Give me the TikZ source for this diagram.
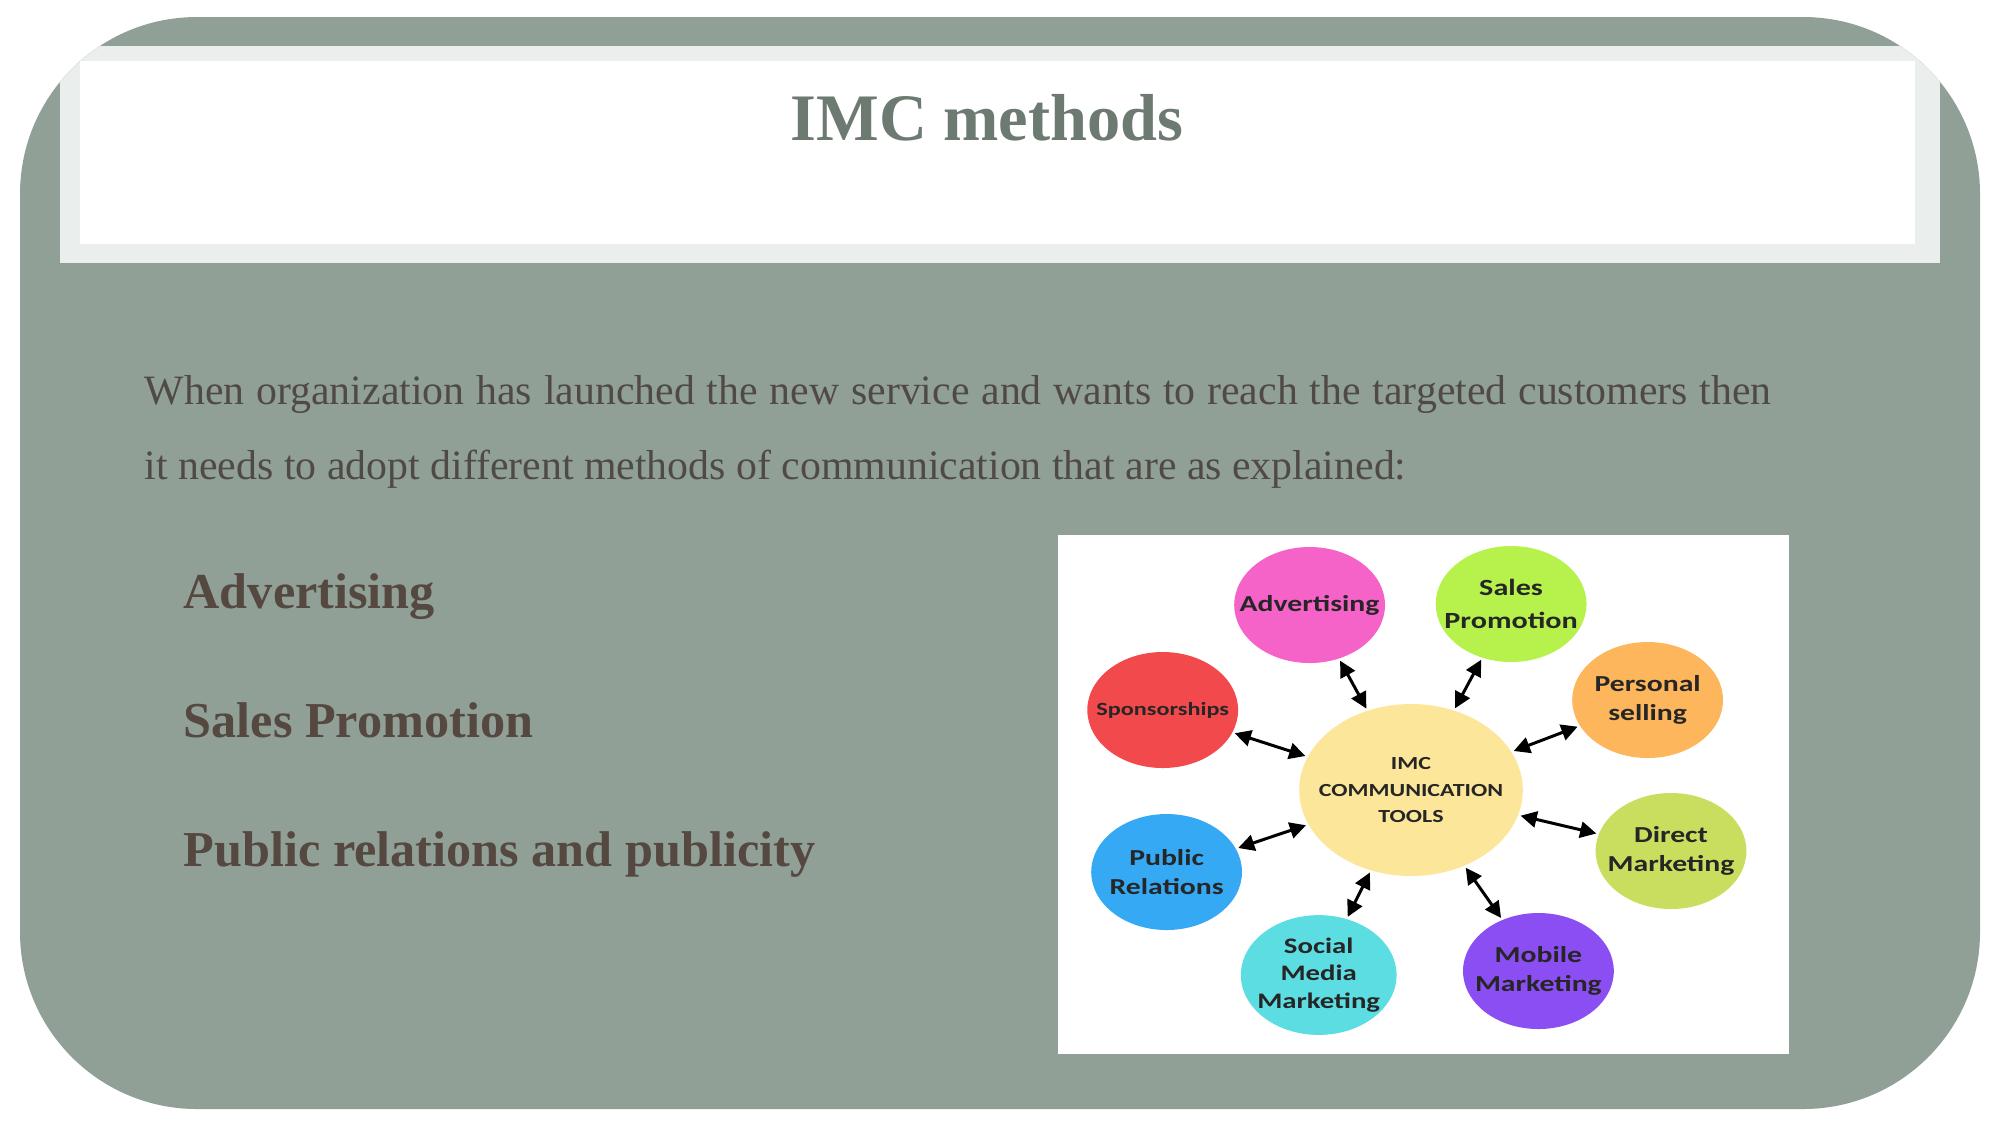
\documentclass[tikz,border=0pt]{standalone}
\usepackage{xcolor}
\usepackage{fontspec}
\setmainfont{Liberation Serif}
\newfontfamily\toolfont{Carlito}
\usetikzlibrary{arrows.meta}

\definecolor{slidegray}{RGB}{145,160,151}
\definecolor{bandgray}{RGB}{234,238,236}
\definecolor{titlegray}{RGB}{108,122,113}
\definecolor{bodytext}{RGB}{80,74,68}
\definecolor{itemtext}{RGB}{85,72,64}
\definecolor{advpink}{RGB}{245,98,200}
\definecolor{salelime}{RGB}{182,242,75}
\definecolor{persorange}{RGB}{253,182,92}
\definecolor{sponsred}{RGB}{242,73,76}
\definecolor{directgreen}{RGB}{201,222,94}
\definecolor{publicblue}{RGB}{53,169,243}
\definecolor{socialcyan}{RGB}{92,221,226}
\definecolor{mobilepurple}{RGB}{139,78,242}
\definecolor{imcyellow}{RGB}{252,230,154}

\begin{document}
\begin{tikzpicture}[
    bodyline/.style={anchor=base west, inner sep=0pt, text=bodytext, font=\fontsize{11.9}{14}\selectfont},
    itemline/.style={anchor=base west, inner sep=0pt, text=itemtext, font=\bfseries\fontsize{14.3}{17}\selectfont},
    toolcirc/.style={circle, minimum size=1.16cm, inner sep=0pt, align=center, text=black!85,
        font=\toolfont\bfseries\fontsize{6.5}{8.4}\selectfont},
    imcarr/.style={<->, >={Triangle[length=4.6pt,width=4.6pt]}, line width=0.85pt, shorten <=0.5pt, shorten >=0.5pt}
]
    \useasboundingbox (0,0) rectangle (20.01,-11.25);
    \fill[white] (0,0) rectangle (20.01,-11.25);

    % --- SLIDE BACKGROUND ---
    \fill[slidegray, rounded corners=1.77cm] (0.20,-0.17) rectangle (19.80,-11.09);
    \begin{scope}
        \clip[rounded corners=1.77cm] (0.20,-0.17) rectangle (19.80,-11.09);
        \fill[bandgray] (0.60,-0.46) rectangle (19.40,-2.63);
        \fill[white] (0.80,-0.61) rectangle (19.15,-2.44);
    \end{scope}

    % --- TITLE ---
    \node[anchor=base, inner sep=0pt, text=titlegray, font=\bfseries\fontsize{18.9}{22}\selectfont]
        (title) at (9.87,-1.407) {IMC methods};

    % --- INTRO TEXT ---
    \node[bodyline] (intro1) at (1.44,-4.04)
        {\makebox[16.27cm][s]{When organization has launched the new service and wants to reach the targeted customers then}};
    \node[bodyline] (intro2) at (1.44,-4.79)
        {it needs to adopt different methods of communication that are as explained:};

    % --- METHODS ---
    \node[itemline] (item1) at (1.83,-6.08) {Advertising};
    \node[itemline] (item2) at (1.83,-7.37) {Sales Promotion};
    \node[itemline] (item3) at (1.83,-8.66) {Public relations and publicity};

    % --- PICTURE ---
    \fill[white] (10.58,-5.35) rectangle (17.89,-10.54);

    \begin{scope}[shift={(14.11,-7.90)}, xscale=1.3, every node/.append style={transform shape}]
        \node[circle, fill=imcyellow, minimum size=1.72cm, inner sep=0pt, align=center, text=black!85,
            font=\toolfont\bfseries\fontsize{5.25}{7.6}\selectfont] (imc) at (0,0)
            {IMC\\COMMUNICATION\\TOOLS};

        \node[toolcirc, fill=advpink] (adv) at (-0.78,1.85) {Advertising};
        \node[toolcirc, fill=salelime, font=\toolfont\bfseries\fontsize{6.6}{9.3}\selectfont]
            (sales) at (0.77,1.86) {Sales\\Promotion};
        \node[toolcirc, fill=persorange] (pers) at (1.82,0.90) {Personal\\selling};
        \node[toolcirc, fill=sponsred, font=\toolfont\bfseries\fontsize{5.3}{7}\selectfont]
            (spons) at (-1.91,0.80) {Sponsorships};
        \node[toolcirc, fill=directgreen] (direct) at (2.00,-0.61) {Direct\\Marketing};
        \node[toolcirc, fill=publicblue] (public) at (-1.88,-0.82) {Public\\Relations};
        \node[toolcirc, fill=socialcyan, font=\toolfont\bfseries\fontsize{6.3}{7.8}\selectfont]
            (social) at (-0.71,-1.85) {Social\\Media\\Marketing};
        \node[toolcirc, fill=mobilepurple] (mobile) at (0.98,-1.81) {Mobile\\Marketing};

        % double arrows
        \foreach \tool in {adv,sales,pers,spons,direct,public,social,mobile}
            \draw[imcarr] (imc) -- (\tool);
    \end{scope}

\end{tikzpicture}
\end{document}
